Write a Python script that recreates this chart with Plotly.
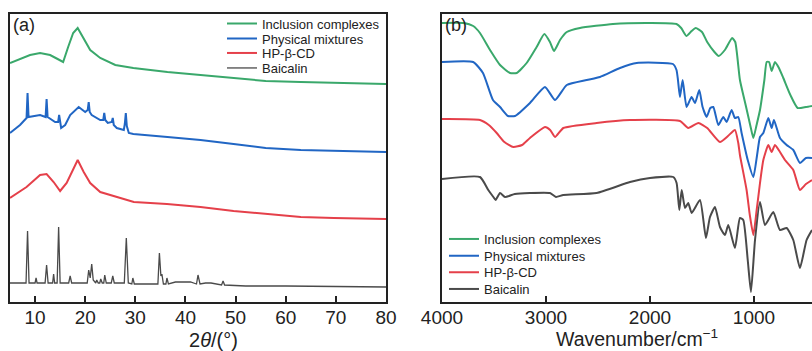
import plotly.graph_objects as go

# ---------------- data: (a) XRD, 2theta (deg) vs intensity (a.u.) ----------------
ic_ang = [5, 7, 9, 11, 13, 14.5, 15.6, 16.6, 17.6, 18.5, 19.6, 21, 23, 26, 29.6, 36.4, 43, 49.6, 56, 63, 69.6, 80]
ic_int = [239, 243, 247, 249, 247, 243, 240, 255, 269, 274, 264, 252, 244, 237, 234, 230, 227, 224, 221, 220, 219, 218]

pm_ang = [5, 7, 8.3, 8.5, 8.7, 11, 12.1, 12.3, 12.5, 14, 14.6, 14.8, 15.2, 16, 17, 18.7, 20, 20.5, 20.7, 20.9,
          21.3, 23, 23.6, 23.8, 24.0, 24.5, 25.3, 25.5, 25.7, 26.3, 27.7, 27.9, 28.1, 28.3, 28.7, 29.6,
          36.4, 43, 49.6, 56, 63, 69.6, 80]
pm_int = [169, 177, 184, 209, 185, 187, 185, 203, 185, 180, 180, 187, 174, 177, 187, 195, 190, 192, 200, 190,
          187, 182, 182, 189, 182, 179, 180, 184, 177, 174, 172, 178, 189, 176, 169, 168,
          165, 162, 158, 154, 152, 151, 150]

cd_ang = [5, 8.3, 11, 12.3, 13.7, 15, 16.3, 17.3, 18.5, 19.7, 21, 23, 26.3, 29.7, 36.3, 43, 49.6, 56.3, 63, 69.6, 80]
cd_int = [104, 115, 127, 128, 120, 111, 119, 130, 142, 130, 119, 110, 105, 100, 98, 95, 91, 88, 85, 84, 83]

ba_ang = [5, 8.2, 8.5, 8.8, 10.0, 10.2, 10.4, 12.0, 12.3, 12.6, 13.5, 13.7, 13.9, 14.4, 14.7, 15.0, 16.7, 17.0, 17.3,
          20.4, 20.7, 21.0, 21.3, 21.6, 22.1, 22.3, 22.6, 22.9, 23.1, 23.4, 23.7, 23.9, 24.2, 25.2, 25.5, 25.8,
          27.8, 28.2, 28.6, 29.3, 29.5, 29.8, 31.6, 34.5, 34.8, 35.1, 35.3, 35.6, 36.1, 36.3, 36.6, 38, 39, 41,
          42.2, 42.5, 42.9, 44, 45.1, 47.2, 47.5, 47.8, 52, 60, 80]
ba_int = [19, 19, 71, 19, 19, 24, 19, 19, 37, 19, 19, 28, 19, 19, 75, 19, 19, 26, 19,
          19, 32, 24, 38, 22, 19, 22, 19, 19, 23, 19, 19, 27, 19, 19, 26, 19,
          19, 64, 19, 18, 24, 18, 18, 18, 49, 26, 28, 18, 18, 24, 18, 20, 20, 20,
          18, 27, 18, 19, 19, 17, 21, 17, 16, 16, 15]

# ---------------- data: (b) FTIR, wavenumber (cm-1) vs transmittance (a.u.) ----------------
ic_wn = [4000, 3795, 3700, 3635, 3538, 3442, 3346, 3282, 3186, 3090, 3016, 2962, 2923, 2865, 2800, 2673, 2356, 2000,
         1745, 1700, 1650, 1600, 1560, 1500, 1450, 1380, 1340, 1280, 1210, 1180, 1135, 1080, 1030, 1006, 975, 942,
         900, 878, 855, 830, 798, 760, 718, 650, 580, 500, 442]
ic_tr = [279, 279, 276, 269, 252, 237, 229, 229, 239, 255, 268, 260, 251, 262, 270, 274, 278, 279,
         278, 274, 266, 271, 274, 270, 260, 250, 246, 252, 264, 260, 222, 197, 174, 164, 177, 192,
         222, 240, 240, 231, 240, 234, 224, 207, 194, 195, 196]

pm_wn = [4000, 3700, 3606, 3510, 3442, 3365, 3298, 3154, 3010, 2913, 2800, 2609, 2481, 2288, 2128, 1779, 1745,
         1731, 1712, 1686, 1648, 1600, 1567, 1526, 1494, 1455, 1420, 1391, 1343, 1295, 1263, 1215, 1183, 1151,
         1119, 1060, 1006, 970, 942, 910, 862, 830, 808, 750, 686, 622, 558, 500, 442]
pm_tr = [240, 240, 229, 202, 195, 186, 186, 199, 215, 202, 217, 222, 225, 234, 239, 238, 232,
         222, 205, 222, 195, 205, 199, 212, 195, 185, 194, 195, 177, 185, 180, 192, 184, 185,
         169, 142, 125, 147, 165, 169, 184, 174, 182, 164, 157, 152, 139, 144, 144]

cd_wn = [4000, 3635, 3550, 3474, 3400, 3314, 3230, 3154, 3010, 2960, 2913, 2833, 2513, 2192, 1712, 1632, 1535,
         1450, 1327, 1250, 1183, 1151, 1135, 1071, 1040, 1006, 974, 942, 910, 862, 830, 798, 750, 702, 622,
         558, 500, 442]
cd_tr = [183, 182, 177, 169, 160, 155, 157, 164, 175, 172, 165, 174, 179, 182, 181, 174, 179,
         174, 160, 166, 172, 159, 147, 112, 87, 67, 92, 119, 142, 157, 150, 157, 150, 142, 132,
         112, 118, 122]

ba_wn = [4000, 3635, 3555, 3506, 3484, 3442, 3394, 3300, 3154, 2962, 2904, 2833, 2513, 2192, 2000, 1776, 1744,
         1718, 1695, 1663, 1632, 1599, 1519, 1462, 1423, 1375, 1327, 1279, 1247, 1183, 1135, 1103, 1060, 1029,
         990, 942, 894, 814, 750, 686, 622, 558, 494, 442]
ba_tr = [123, 125, 112, 105, 102, 109, 105, 108, 109, 109, 105, 107, 109, 120, 124, 125, 119,
         92, 112, 94, 99, 89, 102, 64, 85, 95, 75, 67, 77, 54, 84, 82, 42, 10,
         62, 100, 77, 90, 72, 74, 62, 34, 62, 72]

names = ["Inclusion complexes", "Physical mixtures", "HP-β-CD", "Baicalin"]
colors = ["#3aa86b", "#2166c4", "#e5404a", "#4a4a4a"]
xrd_ticks = [10, 20, 30, 40, 50, 60, 70, 80]
ftir_ticks = [4000, 3000, 2000, 1000]

W, H = 812, 351
FONT = "Liberation Sans, Arial, sans-serif"
INK = "#222222"


def px(v):
    return v / W


def py(v):
    return (H - v) / H


# legend row placement (one plotly legend per entry, to reproduce the tight row spacing)
leg_a_rows = [23.5, 38.5, 53, 68]
leg_b_rows = [239, 255.7, 272.3, 289]

fig = go.Figure()
legend_layout = {}

xrd = [(ic_ang, ic_int), (pm_ang, pm_int), (cd_ang, cd_int), (ba_ang, ba_int)]
for i, ((x, y), n, c) in enumerate(zip(xrd, names, colors)):
    lid = "legend" if i == 0 else f"legend{i + 1}"
    fig.add_trace(go.Scatter(x=x, y=y, mode="lines", name=n, legend=lid,
                             line=dict(color=c, width=2.0 if n != "Baicalin" else 1.3),
                             xaxis="x", yaxis="y"))
    legend_layout[lid] = dict(x=px(222), y=py(leg_a_rows[i]), xanchor="left", yanchor="middle",
                              bgcolor="rgba(0,0,0,0)", borderwidth=0,
                              font=dict(family=FONT, size=13, color=INK), itemwidth=30)

ftir = [(ic_wn, ic_tr), (pm_wn, pm_tr), (cd_wn, cd_tr), (ba_wn, ba_tr)]
for i, ((x, y), n, c) in enumerate(zip(ftir, names, colors)):
    lid = f"legend{i + 5}"
    fig.add_trace(go.Scatter(x=x, y=y, mode="lines", name=n, legend=lid,
                             line=dict(color=c, width=2, shape="spline", smoothing=0.5),
                             xaxis="x2", yaxis="y2"))
    legend_layout[lid] = dict(x=px(444), y=py(leg_b_rows[i]), xanchor="left", yanchor="middle",
                              bgcolor="rgba(0,0,0,0)", borderwidth=0,
                              font=dict(family=FONT, size=13, color=INK), itemwidth=30)

axis_common = dict(showgrid=False, zeroline=False, showline=True, linecolor=INK, linewidth=2,
                   ticklen=6, tickwidth=2, tickcolor=INK, automargin=False,
                   tickfont=dict(family=FONT, size=19, color=INK))

fig.update_layout(
    width=W, height=H, autosize=False,
    margin=dict(l=0, r=0, t=0, b=0, pad=0, autoexpand=False),
    paper_bgcolor="white", plot_bgcolor="white",
    font=dict(family=FONT, color=INK),
    xaxis=dict(domain=[px(10), px(386)], range=[5, 80], tickvals=xrd_ticks, mirror=True, anchor="y",
               ticks="inside", **axis_common),
    yaxis=dict(domain=[py(302), py(14)], range=[0, 288], showticklabels=False, mirror=True, anchor="x",
               ticks="", **axis_common),
    xaxis2=dict(domain=[px(442), 1.0], range=[4000, 442], tickvals=ftir_ticks, mirror=True, anchor="y2",
                ticks="inside", **axis_common),
    yaxis2=dict(domain=[py(302), py(14)], range=[0, 288], showticklabels=False, mirror=False, anchor="x2",
                ticks="", **axis_common),
    showlegend=True,
    annotations=[
        dict(text="(a)", x=px(11), y=py(25), xref="paper", yref="paper", xanchor="left", yanchor="middle",
             showarrow=False, font=dict(family=FONT, size=18, color=INK)),
        dict(text="(b)", x=px(443), y=py(25), xref="paper", yref="paper", xanchor="left", yanchor="middle",
             showarrow=False, font=dict(family=FONT, size=18, color=INK)),
        dict(text="2<i>θ</i>/(°)", x=px(213), y=py(340), xref="paper", yref="paper", xanchor="center",
             yanchor="middle", showarrow=False, font=dict(family=FONT, size=20, color=INK)),
        dict(text="Wavenumber/cm<sup>−1</sup>", x=px(637), y=py(338), xref="paper", yref="paper",
             xanchor="center", yanchor="middle", showarrow=False, font=dict(family=FONT, size=19.5, color=INK)),
    ],
)
fig.update_layout(**legend_layout)

try:
    fig.update_xaxes(ticklabelstandoff=-3)
except Exception:
    pass

fig.write_html("out.html",
               config={"displayModeBar": False, "staticPlot": True},
               post_script="document.body.style.margin='0px';document.body.style.overflow='hidden';")
